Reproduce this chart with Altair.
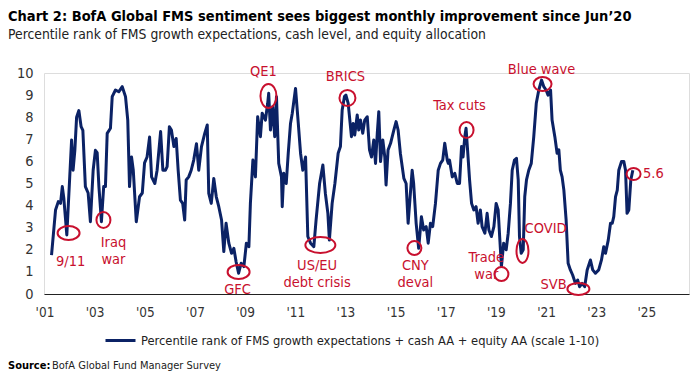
import altair as alt
import pandas as pd

# ---- data (decimal year as plotted, score 0-10) ----
years = [
    2001.28, 2001.44, 2001.55, 2001.64, 2001.71, 2001.77, 2001.89, 2002.00, 2002.08, 2002.14,
    2002.21, 2002.28, 2002.37, 2002.46, 2002.53, 2002.63, 2002.74, 2002.83, 2002.94, 2003.03,
    2003.10, 2003.17, 2003.27, 2003.36, 2003.43, 2003.50, 2003.63, 2003.70, 2003.83, 2003.96,
    2004.10, 2004.23, 2004.32, 2004.39, 2004.47, 2004.54, 2004.66, 2004.79, 2004.90, 2004.99,
    2005.09, 2005.19, 2005.27, 2005.40, 2005.49, 2005.63, 2005.72, 2005.82, 2005.89, 2005.98,
    2006.06, 2006.16, 2006.25, 2006.33, 2006.42, 2006.51, 2006.59, 2006.65, 2006.75, 2006.85,
    2006.95, 2007.06, 2007.15, 2007.26, 2007.39, 2007.49, 2007.55, 2007.65, 2007.75, 2007.85,
    2007.95, 2008.06, 2008.15, 2008.24, 2008.35, 2008.46, 2008.55, 2008.64, 2008.74, 2008.84,
    2008.95, 2009.05, 2009.15, 2009.21, 2009.31, 2009.41, 2009.50, 2009.61, 2009.68, 2009.81,
    2009.90, 2009.94, 2010.01, 2010.10, 2010.18, 2010.25, 2010.34, 2010.45, 2010.48, 2010.54,
    2010.64, 2010.72, 2010.81, 2010.88, 2011.01, 2011.12, 2011.21, 2011.30, 2011.41, 2011.50,
    2011.61, 2011.74, 2011.83, 2011.97, 2012.10, 2012.20, 2012.30, 2012.36, 2012.47, 2012.58,
    2012.71, 2012.80, 2012.87, 2012.96, 2013.02, 2013.11, 2013.24, 2013.31, 2013.37, 2013.47,
    2013.53, 2013.60, 2013.69, 2013.77, 2013.87, 2013.96, 2014.04, 2014.13, 2014.20, 2014.27,
    2014.33, 2014.40, 2014.49, 2014.57, 2014.62, 2014.70, 2014.80, 2014.93, 2015.02, 2015.10,
    2015.19, 2015.33, 2015.42, 2015.50, 2015.59, 2015.66, 2015.72, 2015.82, 2015.92, 2016.03,
    2016.12, 2016.22, 2016.30, 2016.39, 2016.48, 2016.59, 2016.70, 2016.79, 2016.88, 2016.96,
    2017.06, 2017.10, 2017.15, 2017.26, 2017.36, 2017.46, 2017.55, 2017.63, 2017.69, 2017.76,
    2017.81, 2017.87, 2017.95, 2018.03, 2018.12, 2018.21, 2018.29, 2018.38, 2018.45, 2018.56,
    2018.65, 2018.72, 2018.82, 2018.92, 2019.01, 2019.09, 2019.15, 2019.22, 2019.31, 2019.41,
    2019.49, 2019.58, 2019.65, 2019.74, 2019.82, 2019.89, 2019.94, 2020.01, 2020.09, 2020.15,
    2020.22, 2020.31, 2020.41, 2020.51, 2020.61, 2020.71, 2020.82, 2020.91, 2021.00, 2021.08,
    2021.18, 2021.24, 2021.35, 2021.44, 2021.51, 2021.57, 2021.64, 2021.71, 2021.80, 2021.88,
    2021.97, 2022.06, 2022.17, 2022.26, 2022.34, 2022.44, 2022.54, 2022.64, 2022.77, 2022.86,
    2022.97, 2023.10, 2023.21, 2023.30, 2023.37, 2023.48, 2023.57, 2023.64, 2023.70, 2023.77,
    2023.84, 2023.90, 2024.01, 2024.10, 2024.17, 2024.23, 2024.30, 2024.38, 2024.46,
]
scores = [
    1.76, 3.80, 4.18, 4.10, 4.86, 4.34, 2.67, 5.16, 6.97, 5.60,
    6.50, 8.00, 8.30, 7.57, 7.40, 4.86, 4.57, 3.27, 5.60, 6.50,
    6.40, 4.86, 3.27, 4.86, 4.86, 7.27, 7.50, 8.93, 9.23, 9.15,
    9.38, 8.93, 7.87, 4.86, 6.20, 5.60, 3.27, 4.40, 4.57, 5.93,
    6.20, 7.10, 5.30, 5.00, 5.60, 7.35, 5.60, 5.60, 5.76, 7.57,
    7.42, 6.67, 7.04, 5.60, 4.25, 4.10, 3.35, 5.16, 5.30, 5.60,
    6.06, 6.80, 5.60, 6.67, 7.27, 7.65, 4.55, 4.10, 5.23, 4.40,
    3.95, 3.35, 1.92, 3.20, 2.30, 1.84, 2.07, 1.46, 0.94, 1.39,
    1.24, 2.30, 2.14, 4.10, 6.06, 5.30, 8.02, 7.12, 8.18, 7.87,
    8.63, 9.08, 7.42, 8.47, 7.12, 8.93, 5.91, 5.30, 3.95, 5.46,
    5.00, 6.37, 7.72, 8.18, 9.30, 7.72, 6.37, 5.60, 6.20, 2.60,
    2.30, 2.14, 3.35, 5.00, 5.84, 4.55, 3.65, 2.44, 4.10, 5.00,
    6.37, 6.67, 8.33, 8.93, 9.00, 8.63, 7.12, 7.72, 7.19, 8.10,
    7.42, 7.87, 7.27, 7.87, 8.02, 6.52, 6.20, 6.97, 5.91, 7.27,
    8.25, 5.99, 6.97, 6.20, 4.93, 6.52, 6.82, 7.42, 7.80, 7.42,
    6.37, 5.23, 5.00, 3.20, 4.55, 5.60, 5.00, 3.20, 2.07, 3.50,
    2.90, 3.05, 2.30, 3.20, 3.05, 4.10, 5.60, 5.91, 6.06, 6.82,
    6.06, 5.91, 6.06, 5.30, 5.46, 5.00, 5.00, 6.67, 6.20, 7.12,
    7.50, 6.52, 5.16, 4.10, 3.80, 3.95, 3.20, 3.80, 3.05, 2.75,
    3.65, 2.90, 2.60, 3.05, 4.10, 3.80, 2.60, 1.24, 2.30, 2.00,
    2.75, 4.10, 5.60, 6.06, 6.14, 5.16, 2.60, 1.84, 2.00, 4.40,
    5.16, 5.60, 5.91, 7.12, 8.63, 9.23, 9.68, 9.38, 9.23, 9.00,
    9.23, 7.87, 7.12, 6.37, 6.52, 5.60, 5.30, 4.70, 3.35, 1.39,
    1.09, 0.86, 0.48, 0.63, 0.33, 0.48, 0.33, 1.09, 1.54, 1.09,
    0.94, 1.09, 1.54, 2.14, 1.84, 2.44, 3.20, 3.20, 3.50, 4.40,
    4.70, 5.60, 6.00, 6.00, 5.60, 3.65, 3.80, 5.16, 5.60,
]

series_name = "Percentile rank of FMS growth expectations + cash AA + equity AA (scale 1-10)"

# event annotations: label, label position (year, score of first line), circle centre, circle radii (px)
ann_labels = ["9/11", "Iraq\nwar", "GFC", "QE1", "US/EU\ndebt crisis", "BRICS", "CNY\ndeval",
              "Tax cuts", "Trade\nwar", "COVID", "Blue wave", "SVB", "5.6"]
ann_text_x = [2002.04, 2003.75, 2008.70, 2009.73, 2011.87, 2013.00, 2015.79,
              2017.55, 2018.62, 2020.98, 2020.82, 2021.30, 2025.28]
ann_text_y = [1.45, 2.31, 0.18, 10.05, 1.27, 9.82, 1.27,
              8.50, 1.63, 2.94, 10.14, 0.41, 5.43]
circ_x = [2001.96, 2003.35, 2008.74, 2009.93, 2012.00, 2013.08, 2015.75,
          2017.83, 2019.22, 2020.06, 2020.86, 2022.29, 2024.49]
circ_y = [2.76, 3.35, 1.00, 8.96, 2.22, 8.87, 2.08,
          7.42, 0.90, 1.95, 9.50, 0.23, 5.43]
circ_rx = [11, 7, 11, 8, 15, 8, 7, 7, 7, 6, 9, 11, 7]
circ_ry = [7, 8, 7, 12, 8, 8, 7, 8, 7, 12, 7, 6, 6]

x_ticks = list(range(2001, 2026, 2))
y_ticks = list(range(0, 11))

NAVY = "#0b2265"
RED = "#c8102e"
FONT = "DejaVu Sans Condensed, Roboto, sans-serif"

df = pd.DataFrame({"year": years, "score": scores, "series": series_name})
ann_df = pd.DataFrame({"label": ann_labels, "tx": ann_text_x, "ty": ann_text_y})
circ_df = pd.DataFrame({
    "cx": circ_x, "cy": circ_y,
    "path": [f"M {-rx} 0 A {rx} {ry} 0 1 0 {rx} 0 A {rx} {ry} 0 1 0 {-rx} 0 Z"
             for rx, ry in zip(circ_rx, circ_ry)],
})

W, H = 645, 221
xscale = alt.Scale(domain=[2000.98, 2026.70], nice=False, zero=False)
yscale = alt.Scale(domain=[0, 10], nice=False)

x_axis = alt.Axis(values=x_ticks, title=None, grid=False, ticks=False,
                  domain=True, domainColor="#222", domainWidth=1.2,
                  labelExpr="\"'\" + slice(toString(datum.value), 2)",
                  labelOverlap=False, labelFlush=False,
                  labelFont=FONT, labelFontSize=13.5, labelColor="#333",
                  labelPadding=11)
y_axis = alt.Axis(values=y_ticks, tickCount=11, title=None, grid=False, ticks=False,
                  domain=False, labelOverlap=False, labelFlush=False,
                  labelFont=FONT, labelFontSize=14.5,
                  labelColor="#333", labelPadding=11)

line = alt.Chart(df).mark_line(strokeWidth=3, strokeJoin="round").encode(
    x=alt.X("year:Q", scale=xscale, axis=x_axis),
    y=alt.Y("score:Q", scale=yscale, axis=y_axis),
    color=alt.Color("series:N", scale=alt.Scale(range=[NAVY]),
                    legend=alt.Legend(orient="none", legendX=60, legendY=251, title=None,
                                      symbolType="stroke", symbolSize=900,
                                      symbolStrokeWidth=3, labelFont=FONT,
                                      labelFontSize=12.8, labelColor="#222",
                                      labelLimit=0, padding=0, symbolOffset=0,
                                      labelOffset=4)),
)

circles = alt.Chart(circ_df).mark_point(filled=False, size=4, strokeWidth=2,
                                         color=RED, opacity=1).encode(
    x=alt.X("cx:Q", scale=xscale, axis=x_axis),
    y=alt.Y("cy:Q", scale=yscale, axis=y_axis),
    shape=alt.Shape("path:N", scale=None, legend=None),
)

labels = alt.Chart(ann_df).mark_text(color=RED, font=FONT, fontSize=14.5,
                                     lineBreak="\n", lineHeight=17,
                                     baseline="middle", align="center").encode(
    x=alt.X("tx:Q", scale=xscale, axis=x_axis),
    y=alt.Y("ty:Q", scale=yscale, axis=y_axis),
    text="label:N",
)

def note(txt, x, y, size, weight="normal", color="#111"):
    return alt.Chart(pd.DataFrame({"t": [txt]})).mark_text(
        align="left", baseline="middle", font=FONT, fontSize=size,
        fontWeight=weight, color=color).encode(
        x=alt.value(x), y=alt.value(y), text="t:N")

title = note("Chart 2: BofA Global FMS sentiment sees biggest monthly improvement since Jun\u201920",
             -36, -56, 14.5, "bold", "#000")
subtitle = note("Percentile rank of FMS growth expectations, cash level, and equity allocation",
                -36, -38, 13.8, "normal", "#222")
src_b = note("Source:", -36, 293, 11, "bold", "#000")
src = note("BofA Global Fund Manager Survey", 8, 293, 11, "normal", "#222")

chart = alt.layer(line, circles, labels, title, subtitle, src_b, src).properties(
    width=W, height=H,
    autosize=alt.AutoSizeParams(type="none"),
    padding={"left": 36, "top": 65, "right": 3, "bottom": 78},
).configure_view(stroke=None).configure(background="white")

chart.save("out.html", embed_options={"renderer": "svg", "actions": False})
